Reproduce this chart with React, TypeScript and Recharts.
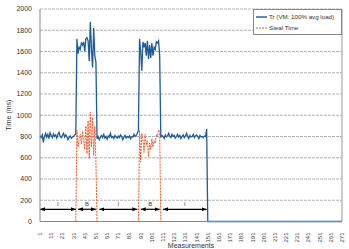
import {
  LineChart,
  Line,
  XAxis,
  YAxis,
  CartesianGrid,
  ReferenceLine,
  Legend,
  Label,
} from "recharts";

// Tr per measurement, 1..150
const TR_VALUES = [
  805, 790, 815, 745, 800, 830, 795, 820, 780, 835,
  810, 790, 825, 800, 815, 785, 820, 840, 800, 790,
  810, 830, 795, 815, 800, 770, 790, 805, 785, 795,
  800, 815, 820,
  // burst 1 (34..51)
  1720, 1580, 1640, 1620, 1680, 1660, 1690, 1600, 1720, 1730,
  1700, 1510, 1880, 1620, 1450, 1820, 1560, 1500,
  // idle (52..89)
  780, 800, 770, 795, 810, 790, 820, 785, 800, 775,
  805, 795, 830, 790, 800, 780, 810, 795, 785, 805,
  790, 815, 800, 770, 795, 810, 785, 800, 790, 805,
  780, 800, 795, 820, 800, 810, 830, 860,
  // burst 2 (90..108)
  1720, 1600, 1420, 1690, 1640, 1680, 1560, 1700, 1530, 1660,
  1540, 1680, 1560, 1640, 1620, 1690, 1680, 1700, 1560,
  // idle (109..150)
  790, 810, 800, 780, 815, 795, 805, 830, 800, 790,
  820, 800, 810, 785, 800, 820, 795, 810, 780, 800,
  815, 790, 805, 830, 800, 780, 810, 795, 800, 820,
  790, 805, 815, 800, 780, 810, 795, 800, 790, 805,
  800, 870,
];
const TR_TAIL = [
  { m: 151, value: 0 },
  { m: 271, value: 0 },
];

const STEAL_BURST_1_START = 34;
const STEAL_BURST_1 = [
  860, 700, 780, 820, 730, 850, 760, 680, 900, 640,
  950, 590, 1030, 700, 980, 620, 900, 560,
];
const STEAL_BURST_2_START = 90;
const STEAL_BURST_2 = [
  860, 560, 830, 780, 650, 820, 720, 760, 610, 740,
  680, 780, 700, 760, 740, 820, 800, 860, 850,
];
const STEAL_ZERO_AT = [1, 33, 52, 89, 109, 151];

const X_TICKS = [
  1, 11, 21, 31, 41, 51, 61, 71, 81, 91, 101, 111, 121, 131,
  141, 151, 161, 171, 181, 191, 201, 211, 221, 231, 241, 251, 261, 271,
];
const Y_TICKS = [0, 200, 400, 600, 800, 1000, 1200, 1400, 1600, 1800, 2000];

const PHASES = [
  { from: 1, to: 33, label: "I" },
  { from: 35, to: 51, label: "B" },
  { from: 54, to: 88, label: "I" },
  { from: 91, to: 108, label: "B" },
  { from: 111, to: 150, label: "I" },
];
const PHASE_Y = 115;

const TR_NAME = "Tr (VM: 100% avg load)";
const STEAL_NAME = "Steal Time";
const BLUE = "#1f5a9c";
const RED = "#ff5722";
const FONT = "'Liberation Sans', Arial, sans-serif";

const trData = TR_VALUES.map((value, i) => ({ m: i + 1, value })).concat(TR_TAIL);
const stealData = [
  ...STEAL_ZERO_AT.map((m) => ({ m, value: 0 })),
  ...STEAL_BURST_1.map((value, i) => ({ m: STEAL_BURST_1_START + i, value })),
  ...STEAL_BURST_2.map((value, i) => ({ m: STEAL_BURST_2_START + i, value })),
].sort((a, b) => a.m - b.m);

function XTick({ x, y, payload }: any) {
  return (
    <text
      x={x}
      y={y + 3}
      transform={`rotate(-90, ${x}, ${y + 3})`}
      textAnchor="end"
      dominantBaseline="central"
      fontSize={6}
      fill="#444"
      fontFamily={FONT}
    >
      {payload.value}
    </text>
  );
}

function LegendBox() {
  return (
    <div
      style={{
        border: "1px solid #888",
        background: "#fff",
        fontFamily: FONT,
        fontSize: 6.2,
        color: "#333",
        padding: "1px 2px",
        lineHeight: "11px",
        whiteSpace: "nowrap",
        boxSizing: "border-box",
      }}
    >
      <div style={{ display: "flex", alignItems: "center" }}>
        <svg width={11} height={4} style={{ marginRight: 2, flexShrink: 0 }}>
          <line x1={0} y1={2} x2={11} y2={2} stroke={BLUE} strokeWidth={1.4} />
        </svg>
        {TR_NAME}
      </div>
      <div style={{ display: "flex", alignItems: "center" }}>
        <svg width={11} height={4} style={{ marginRight: 2, flexShrink: 0 }}>
          <line x1={0} y1={2} x2={11} y2={2} stroke={RED} strokeWidth={1.2} strokeDasharray="2 1" />
        </svg>
        {STEAL_NAME}
      </div>
    </div>
  );
}

export default function App() {
  return (
    <div style={{ position: "absolute", left: 0, top: 0, background: "#fff" }}>
      <LineChart
        width={349}
        height={249}
        margin={{ top: 9, right: 7, bottom: 0, left: 5 }}
      >
        <defs>
          <marker
            id="arrowHead"
            markerWidth={5}
            markerHeight={4}
            refX={5}
            refY={2}
            orient="auto-start-reverse"
            markerUnits="userSpaceOnUse"
          >
            <path d="M0,0 L5,2 L0,4 z" fill="#000" />
          </marker>
        </defs>
        <CartesianGrid
          vertical={false}
          stroke="#b4b4b4"
          strokeDasharray="3 1"
        />
        <XAxis
          type="number"
          dataKey="m"
          domain={[1, 271]}
          ticks={X_TICKS}
          interval={0}
          height={27.5}
          tick={<XTick />}
          tickLine={false}
          axisLine={{ stroke: "#888" }}
        >
          <Label
            value="Measurements"
            position="insideBottom"
            offset={1}
            style={{ fontSize: 7, fill: "#333", fontFamily: FONT }}
          />
        </XAxis>
        <YAxis
          type="number"
          domain={[0, 2000]}
          ticks={Y_TICKS}
          interval={0}
          width={35}
          tick={{ fontSize: 7, fill: "#333", fontFamily: FONT }}
          tickLine={false}
          axisLine={{ stroke: "#888" }}
        >
          <Label
            value="Time (ms)"
            angle={-90}
            position="insideLeft"
            offset={4}
            style={{ fontSize: 7, fill: "#333", fontFamily: FONT, textAnchor: "middle" }}
          />
        </YAxis>
        <ReferenceLine x={271} stroke="#999" />
        <Line
          data={trData}
          dataKey="value"
          name={TR_NAME}
          stroke={BLUE}
          strokeWidth={1.3}
          dot={false}
          isAnimationActive={false}
        />
        <Line
          data={stealData}
          dataKey="value"
          name={STEAL_NAME}
          stroke={RED}
          strokeWidth={1}
          strokeDasharray="2 1"
          dot={false}
          isAnimationActive={false}
        />
        {PHASES.map((p, i) => (
          <ReferenceLine
            key={`phase-${i}`}
            segment={[
              { x: p.from, y: PHASE_Y },
              { x: p.to, y: PHASE_Y },
            ]}
            stroke="#000"
            strokeWidth={1.2}
            markerStart="url(#arrowHead)"
            markerEnd="url(#arrowHead)"
            ifOverflow="visible"
            label={{
              value: p.label,
              position: "top",
              offset: 3,
              fontSize: 6,
              fill: "#444",
              fontFamily: FONT,
            }}
          />
        ))}
        <Legend
          layout="horizontal"
          verticalAlign="middle"
          align="center"
          wrapperStyle={{ top: 9, left: 253, width: 89 }}
          content={<LegendBox />}
        />
      </LineChart>
    </div>
  );
}
